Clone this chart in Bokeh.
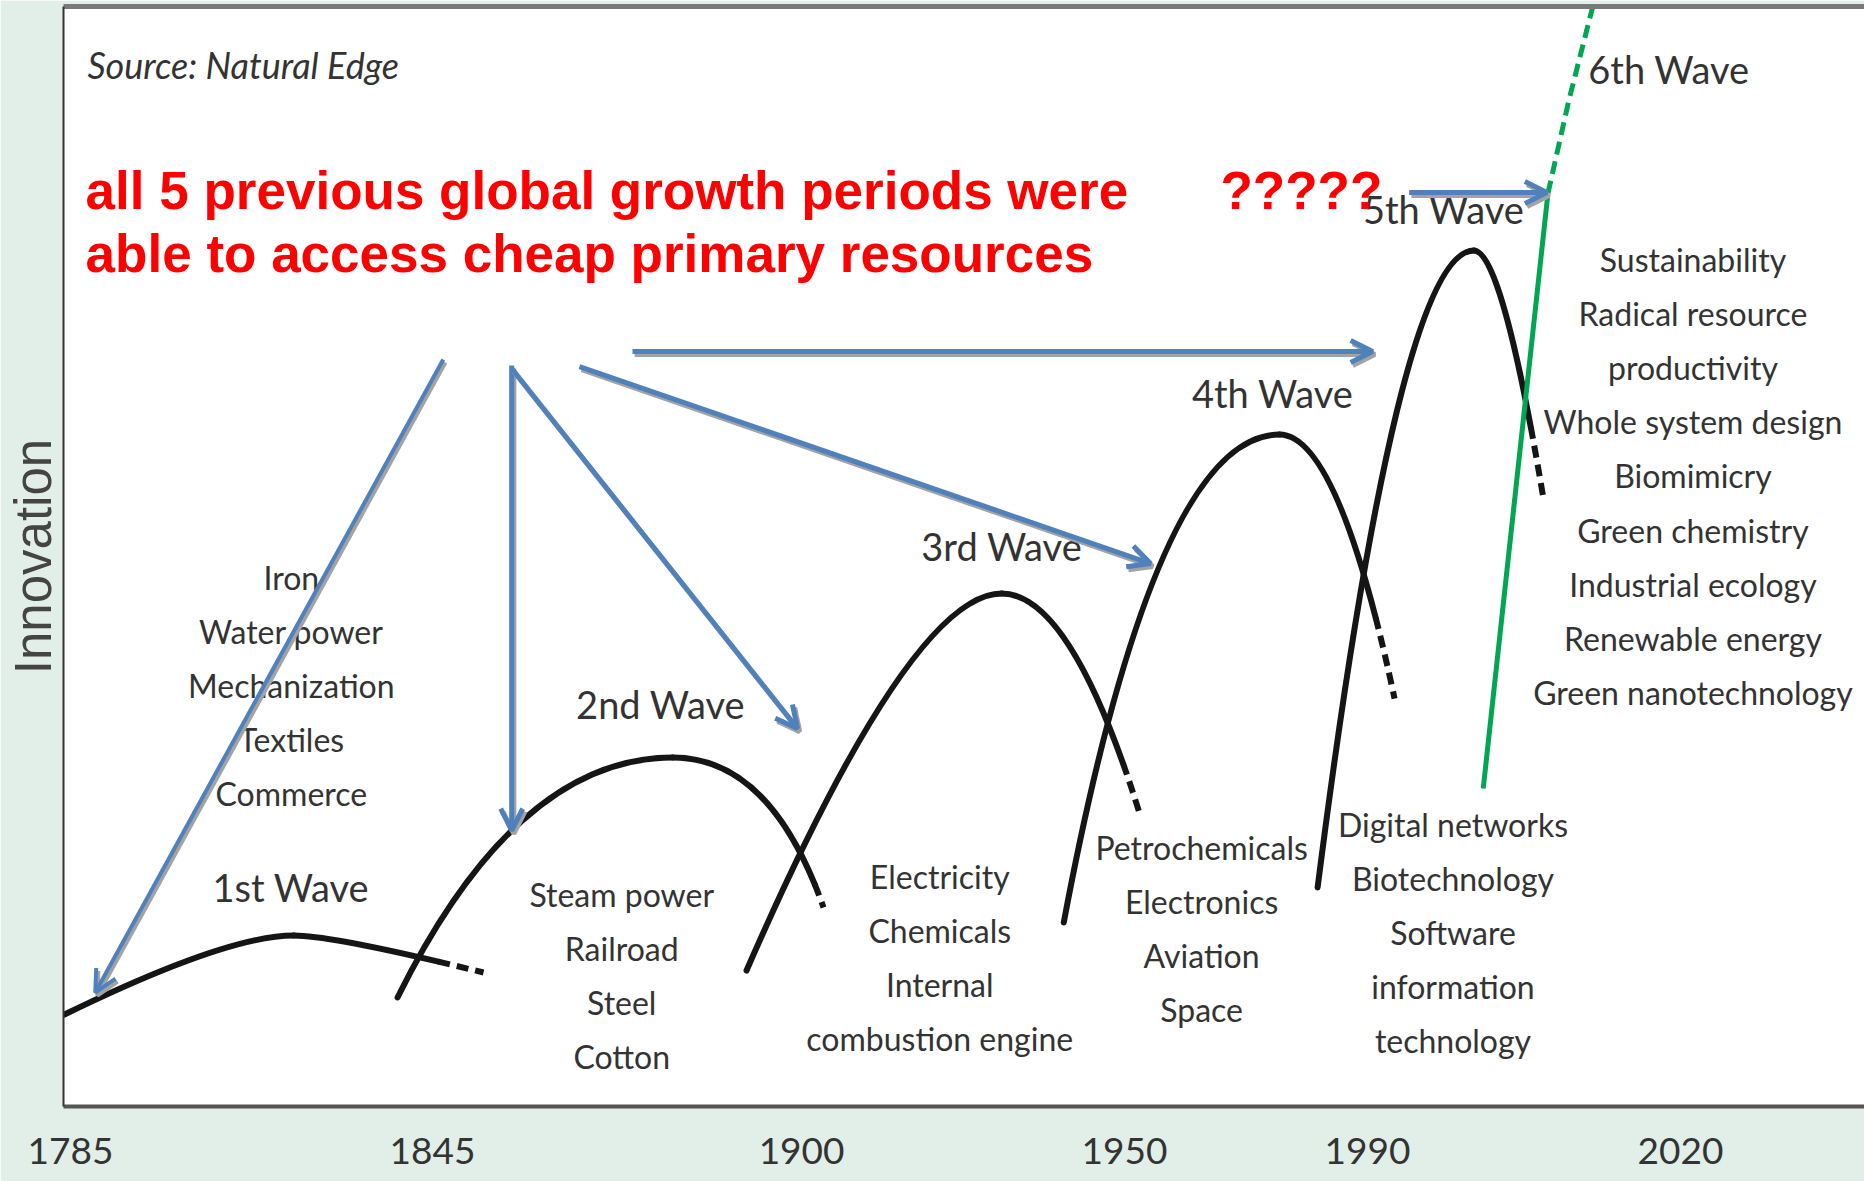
import numpy as np
from bokeh.plotting import figure
from bokeh.models import (Range1d, FixedTicker, LinearAxis, Arrow, OpenHead,
                          CustomJSTickFormatter)
from bokeh.embed import file_html
from bokeh.resources import INLINE
from bokeh.core.properties import value

# ---------------- data ----------------
TICK_YEARS = [1785, 1845, 1900, 1950, 1990, 2020]
TICK_LABELS = ["1785", "1845", "1900", "1950", "1990", "2020"]

WAVE_NAMES = ["1st Wave", "2nd Wave", "3rd Wave", "4th Wave", "5th Wave"]
WAVE_START_YEAR = [1784.0, 1839.2, 1891.8, 1940.6, 1981.8]
WAVE_START_VAL = [8.36, 9.91, 12.36, 16.73, 19.91]
WAVE_PEAK_YEAR = [1822.0, 1880.8, 1931.0, 1975.5, 2000.2]
WAVE_PEAK_VAL = [15.55, 31.73, 46.64, 61.09, 77.82]
WAVE_END_YEAR = [1852.6, 1903.4, 1952.6, 1992.6, 2006.9]
WAVE_END_VAL = [12.18, 18.09, 26.45, 37.09, 55.09]
WAVE_RISE_BEND_YEAR = [1810.9, 1857.5, 1916.9, 1955.1, 1993.0]
WAVE_FALL_BEND_YEAR = [1828.6, 1895.4, 1941.8, 1985.2, 2002.9]
WAVE_SOLID_SHARE = [0.84, 0.92, 0.875, 0.833, 0.841]

SIXTH_NAME = "6th Wave"
SIXTH_YEARS = [2001.1, 2007.3, 2009.3, 2011.6]
SIXTH_VALS = [28.91, 83.0, 91.45, 100.0]

ERA_ITEMS = [
    ["Iron", "Water power", "Mechanization", "Textiles", "Commerce"],
    ["Steam power", "Railroad", "Steel", "Cotton"],
    ["Electricity", "Chemicals", "Internal", "combustion engine"],
    ["Petrochemicals", "Electronics", "Aviation", "Space"],
    ["Digital networks", "Biotechnology", "Software", "information", "technology"],
    ["Sustainability", "Radical resource", "productivity", "Whole system design",
     "Biomimicry", "Green chemistry", "Industrial ecology", "Renewable energy",
     "Green nanotechnology"],
]

ARROW_FROM_YEAR = [1846.6, 1856.8, 1856.8, 1866.9, 1874.8, 1994.0]
ARROW_FROM_VAL = [67.91, 67.36, 67.09, 67.27, 68.64, 83.09]
ARROW_TO_YEAR = [1789.1, 1856.8, 1899.4, 1954.3, 1990.5, 2007.2]
ARROW_TO_VAL = [10.36, 25.09, 34.36, 49.36, 68.64, 83.09]

NOTE_LINES = ["all 5 previous global growth periods were",
              "able to access cheap primary resources"]
QUESTION = "?????"
SOURCE = "Source: Natural Edge"
Y_TITLE = "Innovation"

# ---------------- layout ----------------
TICK_POS = [0.39, 20.49, 40.98, 58.91, 72.40, 89.78]   # where each year label sits on the 0-100 frame

WAVE_LABEL_YEAR = [1821.5, 1879.0, 1931.0, 1974.4, 1997.3, 2018.9]
WAVE_LABEL_VAL = [20.0, 36.55, 51.0, 64.9, 81.6, 94.36]
ERA_X_YEAR = [1821.6, 1873.2, 1921.4, 1962.7, 1998.2, 2021.2]
ERA_TOP_VAL = [48.1, 19.27, 20.9, 23.55, 25.64, 77.0]
ERA_STEP = 4.92
NOTE_X_YEAR = 1787.5
NOTE_VALS = [83.27, 77.55]
QUESTION_X_YEAR = 1965.8
SOURCE_X_YEAR = 1787.8
SOURCE_VAL = 94.64
ARROW_WIDTHS = [4, 5, 5, 5, 5, 5]

BLUE = "#4f81bd"
SHADOW = "#a3a3a3"
INK = "#151515"
GREEN = "#00a651"
TXT = "#333333"
GILL = value("Lato")


def year_to_pos(yr):
    yr = np.asarray(yr, dtype=float)
    pos = np.interp(yr, TICK_YEARS, TICK_POS)
    lo = (TICK_POS[1] - TICK_POS[0]) / (TICK_YEARS[1] - TICK_YEARS[0])
    hi = (TICK_POS[-1] - TICK_POS[-2]) / (TICK_YEARS[-1] - TICK_YEARS[-2])
    pos = np.where(yr < TICK_YEARS[0], TICK_POS[0] + (yr - TICK_YEARS[0]) * lo, pos)
    pos = np.where(yr > TICK_YEARS[-1], TICK_POS[-1] + (yr - TICK_YEARS[-1]) * hi, pos)
    return pos


p = figure(width=1864, height=1181, x_range=Range1d(0, 100), y_range=Range1d(0, 100),
           output_backend="svg", toolbar_location=None,
           min_border_left=63, min_border_right=0, min_border_top=6, min_border_bottom=75,
           background_fill_color="white", border_fill_color="#e1efe8",
           outline_line_color=None)
p.grid.visible = False

# bottom axis with year labels
xa = p.xaxis[0]
xa.ticker = FixedTicker(ticks=list(TICK_POS))
xa.formatter = CustomJSTickFormatter(args=dict(labels=TICK_LABELS), code="return labels[index];")
xa.major_tick_line_color = None
xa.minor_tick_line_color = None
xa.axis_line_color = "#555555"
xa.axis_line_width = 4
xa.major_label_text_font = "Lato"
xa.major_label_text_font_size = "37px"
xa.major_label_text_color = TXT
xa.major_label_standoff = 25

ya = p.yaxis[0]
ya.ticker = FixedTicker(ticks=[])
ya.axis_label = Y_TITLE
ya.axis_label_text_font = "Liberation Sans"
ya.axis_label_text_font_size = "51px"
ya.axis_label_text_font_style = "normal"
ya.axis_label_text_color = "#444444"
ya.axis_label_standoff = 2
ya.axis_line_color = "#333333"
ya.axis_line_width = 2
ya.major_tick_line_color = None
ya.minor_tick_line_color = None

top = LinearAxis(ticker=FixedTicker(ticks=[]), axis_line_color="#7a7a7a", axis_line_width=5,
                 major_tick_line_color=None, minor_tick_line_color=None)
p.add_layout(top, "above")

# ---------------- waves 1-5 ----------------
for i in range(len(WAVE_NAMES)):
    x0 = float(year_to_pos(WAVE_START_YEAR[i])); y0 = WAVE_START_VAL[i]
    xp = float(year_to_pos(WAVE_PEAK_YEAR[i])); yp = WAVE_PEAK_VAL[i]
    x2 = float(year_to_pos(WAVE_END_YEAR[i])); y2 = WAVE_END_VAL[i]
    cr = float(year_to_pos(WAVE_RISE_BEND_YEAR[i]))
    cf = float(year_to_pos(WAVE_FALL_BEND_YEAR[i]))
    p.quadratic(x0=[x0], y0=[y0], x1=[xp], y1=[yp], cx=[cr], cy=[yp],
                line_color=INK, line_width=6, line_cap="round")
    t = WAVE_SOLID_SHARE[i]
    bx = (1 - t) ** 2 * xp + 2 * t * (1 - t) * cf + t * t * x2
    by = (1 - t) ** 2 * yp + 2 * t * (1 - t) * yp + t * t * y2
    p.quadratic(x0=[xp], y0=[yp], x1=[bx], y1=[by],
                cx=[(1 - t) * xp + t * cf], cy=[yp],
                line_color=INK, line_width=6, line_cap="round")
    p.quadratic(x0=[bx], y0=[by], x1=[x2], y1=[y2],
                cx=[(1 - t) * cf + t * x2], cy=[(1 - t) * yp + t * y2],
                line_color=INK, line_width=6, line_dash="12 7")

# ---------------- 6th wave (green) ----------------
sx = year_to_pos(SIXTH_YEARS)
p.line(x=sx[:2], y=SIXTH_VALS[:2], line_color=GREEN, line_width=5)
p.line(x=sx[1:], y=SIXTH_VALS[1:], line_color=GREEN, line_width=5, line_dash="13 7")

# ---------------- blue arrows ----------------
dx, dy = 0.12, -0.28
for i in range(len(ARROW_FROM_YEAR)):
    xs = float(year_to_pos(ARROW_FROM_YEAR[i])); ys = ARROW_FROM_VAL[i]
    xe = float(year_to_pos(ARROW_TO_YEAR[i])); ye = ARROW_TO_VAL[i]
    w = ARROW_WIDTHS[i]
    p.add_layout(Arrow(end=OpenHead(size=22, line_color=SHADOW, line_width=w),
                       x_start=xs + dx, y_start=ys + dy, x_end=xe + dx, y_end=ye + dy,
                       line_color=SHADOW, line_width=w))
    p.add_layout(Arrow(end=OpenHead(size=22, line_color=BLUE, line_width=w),
                       x_start=xs, y_start=ys, x_end=xe, y_end=ye,
                       line_color=BLUE, line_width=w))

# ---------------- texts ----------------
p.text(x=year_to_pos(WAVE_LABEL_YEAR), y=WAVE_LABEL_VAL, text=WAVE_NAMES + [SIXTH_NAME],
       text_font=GILL, text_font_size="38px", text_color=TXT,
       text_align="center", text_baseline="middle")

ex, ey, et = [], [], []
for g, items in enumerate(ERA_ITEMS):
    for k, s in enumerate(items):
        ex.append(float(year_to_pos(ERA_X_YEAR[g])))
        ey.append(ERA_TOP_VAL[g] - k * ERA_STEP)
        et.append(s)
p.text(x=ex, y=ey, text=et, text_font=GILL, text_font_size="32px", text_color=TXT,
       text_align="center", text_baseline="middle")

p.text(x=[float(year_to_pos(SOURCE_X_YEAR))], y=[SOURCE_VAL], text=[SOURCE],
       text_font=GILL, text_font_style="italic", text_font_size="36px", text_color=TXT,
       text_align="left", text_baseline="middle")

p.text(x=[float(year_to_pos(NOTE_X_YEAR))] * 2, y=NOTE_VALS, text=NOTE_LINES,
       text_font=value("Liberation Sans"), text_font_style="bold", text_font_size="53px",
       text_color="#ff0000", text_align="left", text_baseline="middle")
p.text(x=[float(year_to_pos(QUESTION_X_YEAR))], y=[NOTE_VALS[0]], text=[QUESTION],
       text_font=value("Liberation Sans"), text_font_style="bold", text_font_size="53px",
       text_color="#ff0000", text_align="left", text_baseline="middle")

open("out.html", "w").write(file_html(p, INLINE))
